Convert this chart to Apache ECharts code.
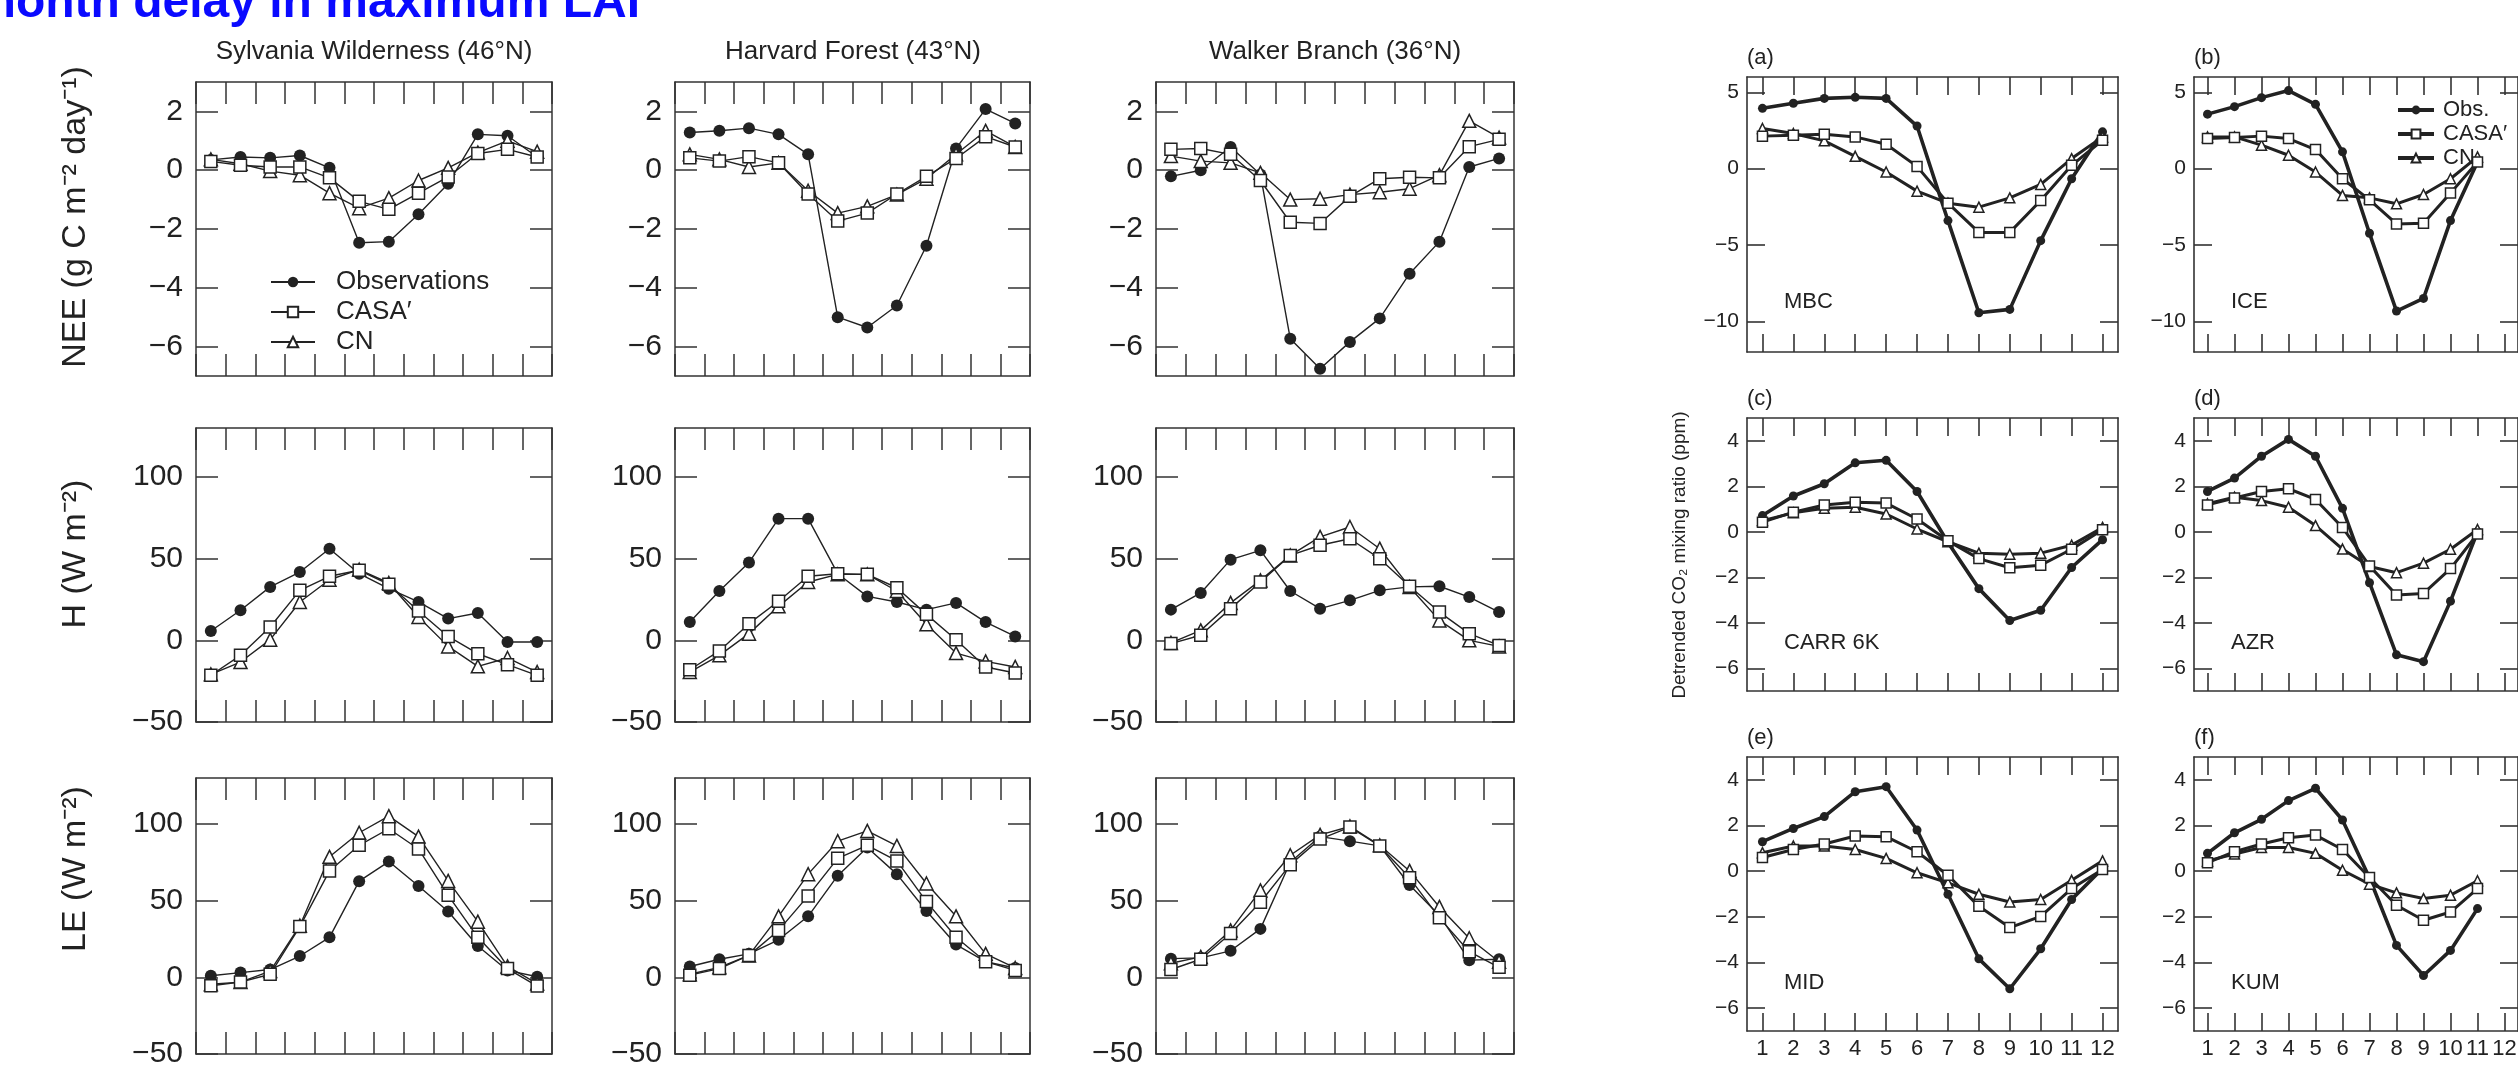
<!DOCTYPE html>
<html>
<head>
<meta charset="utf-8">
<script src="https://cdn.jsdelivr.net/npm/echarts@6/dist/echarts.min.js"></script>
<style>
html,body{margin:0;padding:0;background:#fff;}
#main{width:2518px;height:1069px;}
</style>
</head>
<body>
<div id="main"></div>
<script>
// ---- data ----
const months = ['1','2','3','4','5','6','7','8','9','10','11','12'];
const neeTicks = [-6,-4,-2,0,2];
const fluxTicks = [-50,0,50,100];
const mbcTicks = [-10,-5,0,5];
const co2Ticks = [-6,-4,-2,0,2,4];

// flux towers: NEE
const sylvNeeObs  = [0.35,0.45,0.42,0.5,0.08,-2.47,-2.43,-1.5,-0.46,1.22,1.17,0.45];
const sylvNeeCasa = [0.3,0.17,0.11,0.11,-0.26,-1.06,-1.33,-0.78,-0.23,0.57,0.71,0.45];
const sylvNeeCn   = [0.37,0.22,-0.03,-0.17,-0.78,-1.29,-0.95,-0.35,0.08,0.6,1.0,0.63];
const harvNeeObs  = [1.28,1.34,1.43,1.22,0.54,-5.0,-5.35,-4.6,-2.57,0.74,2.08,1.59];
const harvNeeCasa = [0.42,0.31,0.46,0.25,-0.81,-1.73,-1.46,-0.81,-0.21,0.4,1.14,0.79];
const harvNeeCn   = [0.54,0.37,0.11,0.25,-0.7,-1.46,-1.23,-0.83,-0.29,0.54,1.34,0.79];
const walkNeeObs  = [-0.21,0,0.79,-0.15,-5.73,-6.75,-5.84,-5.04,-3.52,-2.43,0.11,0.4];
const walkNeeCasa = [0.71,0.74,0.54,-0.35,-1.77,-1.81,-0.89,-0.29,-0.24,-0.26,0.8,1.05];
const walkNeeCn   = [0.48,0.31,0.25,-0.09,-1.0,-0.97,-0.83,-0.75,-0.63,-0.17,1.68,1.11];
// flux towers: H
const sylvHObs  = [5.7,18.4,32.7,41.8,56.1,40.8,31.6,23.5,13.3,16.7,-1,-1];
const sylvHCasa = [-21.4,-9.2,8.2,30.6,39.2,42.9,34.3,18,2.4,-8.2,-14.9,-21.4];
const sylvHCn   = [-20.8,-13.3,0.4,23.5,37.1,43.3,35.1,14.3,-3.7,-15.9,-10.8,-19.4];
const harvHObs  = [11.2,30.2,47.6,74.5,74.5,40.8,26.9,23.5,18.8,22.9,11.2,2.4];
const harvHCasa = [-18,-6.5,10.2,23.9,39.2,40.8,40.4,32.2,15.9,0.4,-16.3,-20];
const harvHCn   = [-19.4,-9.2,4.1,20.8,35.7,40.4,40.4,30.2,9.8,-7.8,-12.9,-16.3];
const walkHObs  = [18.8,29,49.4,55.1,30.2,19.4,24.5,30.6,32.7,33.1,26.5,17.3];
const walkHCasa = [-2,3.1,19.4,35.7,52,58.2,62.2,50,33.1,17.3,4.1,-3.1];
const walkHCn   = [-1.6,6.1,22.9,36.7,52,63.3,69.4,56.1,32.7,12.2,0,-3.7];
// flux towers: LE
const sylvLeObs  = [1,3.1,5.1,13.9,26.1,62.7,75.5,59.6,42.9,20.4,4.5,0.4];
const sylvLeCasa = [-5.5,-3.1,2,33.1,69.4,86.1,96.9,83.7,53.5,26.1,5.7,-5.7];
const sylvLeCn   = [-4.5,-3.1,4.1,33.7,78.6,94.3,105.1,91.8,62.9,36.3,7.1,-4.1];
const harvLeObs  = [7.1,11.8,15.3,24.5,39.8,66.3,84.7,67.3,43.3,21.4,10.2,6.1];
const harvLeCasa = [1.4,5.7,14.3,30.6,53.1,77.6,86.1,75.9,49.4,26.1,10.2,4.5];
const harvLeCn   = [2,6.5,14.3,39.8,67.3,88.8,95.5,85.7,61.2,39.8,15.3,6.1];
const walkLeObs  = [12.2,12.7,17.3,31.6,75.1,91.8,88.8,85.7,60.2,40.4,11.2,11.8];
const walkLeCasa = [5.1,11.8,28.6,49,73.5,90.2,98,85.7,64.9,38.8,16.7,6.5];
const walkLeCn   = [9.2,13.3,30.6,56.7,79.6,92.9,98.4,86.1,69.4,45.9,25.5,10.2];

// CO2 stations
const mbcObs  = [3.95,4.28,4.6,4.67,4.6,2.79,-3.4,-9.43,-9.21,-4.71,-0.66,2.41];
const mbcCasa = [2.13,2.19,2.26,2.08,1.6,0.15,-2.26,-4.17,-4.17,-2.08,0.22,1.86];
const mbcCn   = [2.63,2.3,1.82,0.81,-0.22,-1.47,-2.26,-2.52,-1.91,-1.03,0.66,2.08];
const iceObs  = [3.57,4.06,4.65,5.11,4.21,1.1,-4.23,-9.32,-8.49,-3.4,0.44];
const iceCasa = [1.97,2.04,2.13,1.97,1.25,-0.66,-2.04,-3.62,-3.57,-1.6,0.44];
const iceCn   = [2.08,2.08,1.54,0.88,-0.22,-1.75,-1.91,-2.3,-1.69,-0.66,0.77];
const carrObs  = [0.71,1.57,2.11,3.03,3.14,1.77,-0.47,-2.5,-3.9,-3.45,-1.57,-0.35];
const carrCasa = [0.42,0.86,1.18,1.3,1.26,0.56,-0.4,-1.18,-1.58,-1.47,-0.77,0.09];
const carrCn   = [0.49,0.83,1.03,1.08,0.78,0.12,-0.44,-0.94,-0.99,-0.94,-0.59,0.19];
const azrObs  = [1.77,2.36,3.32,4.06,3.32,1.03,-2.24,-5.41,-5.71,-3.05,0.0];
const azrCasa = [1.18,1.48,1.77,1.89,1.42,0.19,-1.5,-2.78,-2.71,-1.62,-0.1];
const azrCn   = [1.23,1.52,1.37,1.08,0.27,-0.76,-1.53,-1.8,-1.38,-0.77,0.1];
const midObs  = [1.29,1.87,2.39,3.48,3.7,1.8,-1.01,-3.84,-5.15,-3.4,-1.24,0.12];
const midCasa = [0.6,0.95,1.19,1.54,1.51,0.85,-0.18,-1.54,-2.47,-1.98,-0.76,0.07];
const midCn   = [0.81,1.1,1.1,0.95,0.56,-0.07,-0.51,-1.01,-1.35,-1.24,-0.4,0.45];
const kumObs  = [0.78,1.68,2.27,3.09,3.63,2.24,-0.3,-3.25,-4.57,-3.47,-1.64];
const kumCasa = [0.37,0.85,1.19,1.46,1.58,0.95,-0.28,-1.49,-2.15,-1.79,-0.76];
const kumCn   = [0.45,0.75,1.04,1.04,0.78,0.04,-0.57,-0.95,-1.2,-1.05,-0.42];

// ---- layout ----
const ink = '#222';
const sans = '"Liberation Sans", Arial, sans-serif';
const narrow = '"Liberation Sans Narrow", "Liberation Sans", Arial, sans-serif';
const minus = v => (v < 0 ? '\u2212' + Math.abs(v) : String(v));

const grid = [], xAxis = [], yAxis = [], series = [], graphic = [];

function addPanel(p, lines) {
  const gi = grid.length;
  grid.push({left: p.left, top: p.top, width: p.width, height: p.height});
  const ls = {color: '#333', width: p.frame};
  const xBase = {
    type: 'category', gridIndex: gi, data: months, boundaryGap: true,
    axisLine: {show: true, onZero: false, lineStyle: ls},
    axisTick: {show: true, inside: true, length: p.tick, interval: 0, alignWithLabel: p.align, lineStyle: ls},
    splitLine: {show: false}
  };
  const xi = xAxis.length;
  xAxis.push(Object.assign({}, xBase, {
    position: 'bottom',
    axisLabel: {show: !!p.xLabels, interval: 0, margin: 7, fontSize: 22, color: ink, fontFamily: narrow}
  }));
  xAxis.push(Object.assign({}, xBase, {position: 'top', axisLabel: {show: false}}));
  const yBase = {
    type: 'value', gridIndex: gi, min: p.min, max: p.max,
    axisLine: {show: true, onZero: false, lineStyle: ls},
    axisTick: {show: true, inside: true, length: p.tick, customValues: p.ticks, lineStyle: ls},
    splitLine: {show: false}
  };
  const yi = yAxis.length;
  yAxis.push(Object.assign({}, yBase, {
    position: 'left',
    axisLabel: {show: true, customValues: p.ticks, formatter: minus, margin: p.labelGap,
      fontSize: p.fontSize, color: ink, fontFamily: p.font}
  }));
  yAxis.push(Object.assign({}, yBase, {position: 'right', axisLabel: {show: false}}));

  lines.forEach(s => {
    series.push({
      type: 'line', name: s.name, data: s.data, xAxisIndex: xi, yAxisIndex: yi,
      symbol: s.symbol, symbolSize: s.size, showAllSymbol: true, silent: true,
      lineStyle: {color: ink, width: s.width},
      itemStyle: s.filled ? {color: ink} : {color: '#fff', borderColor: ink, borderWidth: s.border}
    });
  });
}

// left block: 3 rows x 3 sites
const leftCols = [{left: 196, width: 356}, {left: 675, width: 355}, {left: 1156, width: 358}];
const leftRows = [
  {top: 82, min: -7, max: 3, ticks: neeTicks},
  {top: 428, min: -50, max: 130, ticks: fluxTicks},
  {top: 778, min: -50, max: 130, ticks: fluxTicks}
];
const leftData = [
  [[sylvNeeObs, sylvNeeCasa, sylvNeeCn], [harvNeeObs, harvNeeCasa, harvNeeCn], [walkNeeObs, walkNeeCasa, walkNeeCn]],
  [[sylvHObs, sylvHCasa, sylvHCn], [harvHObs, harvHCasa, harvHCn], [walkHObs, walkHCasa, walkHCn]],
  [[sylvLeObs, sylvLeCasa, sylvLeCn], [harvLeObs, harvLeCasa, harvLeCn], [walkLeObs, walkLeCasa, walkLeCn]]
];
leftRows.forEach((r, ri) => {
  leftCols.forEach((c, ci) => {
    const d = leftData[ri][ci];
    addPanel({left: c.left, width: c.width, top: r.top, height: 294, min: r.min, max: r.max,
      ticks: r.ticks, tick: 22, frame: 1.5, align: false, labelGap: 13, fontSize: 30, font: sans}, [
      {name: 'Observations', data: d[0], symbol: 'circle', size: 12, width: 1.4, filled: true},
      {name: 'CN', data: d[2], symbol: 'triangle', size: 13, width: 1.4, border: 1.5},
      {name: 'CASA\u2032', data: d[1], symbol: 'rect', size: 12, width: 1.4, border: 1.5}
    ]);
  });
});

// right block: 3 rows x 2 stations
const rightCols = [{left: 1747, width: 371}, {left: 2194, width: 371}];
const rightRows = [
  {top: 77, height: 275, min: -12, max: 6, ticks: mbcTicks},
  {top: 418, height: 273, min: -7, max: 5, ticks: co2Ticks},
  {top: 757, height: 274, min: -7, max: 5, ticks: co2Ticks}
];
const rightData = [
  [[mbcObs, mbcCasa, mbcCn], [iceObs, iceCasa, iceCn]],
  [[carrObs, carrCasa, carrCn], [azrObs, azrCasa, azrCn]],
  [[midObs, midCasa, midCn], [kumObs, kumCasa, kumCn]]
];
const letters = [['(a)', '(b)'], ['(c)', '(d)'], ['(e)', '(f)']];
const stations = [['MBC', 'ICE'], ['CARR 6K', 'AZR'], ['MID', 'KUM']];
rightRows.forEach((r, ri) => {
  rightCols.forEach((c, ci) => {
    const d = rightData[ri][ci];
    addPanel({left: c.left, width: c.width, top: r.top, height: r.height, min: r.min, max: r.max,
      ticks: r.ticks, tick: 18, frame: 1.6, align: true, labelGap: 8, fontSize: 21, font: narrow,
      xLabels: ri === 2}, [
      {name: 'Obs.', data: d[0], symbol: 'circle', size: 9, width: 3.6, filled: true},
      {name: 'CN ', data: d[2], symbol: 'triangle', size: 10, width: 3, border: 1.5},
      {name: 'CASA\u2032 ', data: d[1], symbol: 'rect', size: 10, width: 3, border: 1.5}
    ]);
    graphic.push({type: 'text', x: c.left, y: r.top - 19,
      style: {text: letters[ri][ci], fill: ink, font: '22px ' + narrow, textAlign: 'left', textVerticalAlign: 'middle'}});
    graphic.push({type: 'text', x: c.left + 37, y: r.top + r.height - (ri === 0 ? 50 : 48),
      style: {text: stations[ri][ci], fill: ink, font: '22px ' + narrow, textAlign: 'left', textVerticalAlign: 'middle'}});
  });
});

// column titles and axis names
[['Sylvania Wilderness (46\u00B0N)', 374], ['Harvard Forest (43\u00B0N)', 853], ['Walker Branch (36\u00B0N)', 1335]]
  .forEach(t => graphic.push({type: 'text', x: t[1], y: 52,
    style: {text: t[0], fill: ink, font: '26px ' + sans, textAlign: 'center', textVerticalAlign: 'middle'}}));
[['NEE (g C m\u207B\u00B2 day\u207B\u00B9)', 217], ['H (W m\u207B\u00B2)', 554], ['LE (W m\u207B\u00B2)', 869]]
  .forEach(t => graphic.push({type: 'text', x: 76, y: t[1], rotation: Math.PI / 2,
    style: {text: t[0], fill: ink, font: '34px ' + sans, textAlign: 'center', textVerticalAlign: 'middle'}}));
graphic.push({type: 'text', x: 1680, y: 555, rotation: Math.PI / 2,
  style: {text: 'Detrended CO\u2082 mixing ratio (ppm)', fill: ink, font: '19px ' + sans, textAlign: 'center', textVerticalAlign: 'middle'}});
graphic.push({type: 'text', x: 640, y: 28,
  style: {text: '1-month delay in maximum LAI', fill: '#0a0aff', font: 'bold 48px ' + sans, textAlign: 'right', textVerticalAlign: 'bottom'}});

const chart = echarts.init(document.getElementById('main'));
chart.setOption({
  animation: false,
  grid: grid,
  xAxis: xAxis,
  yAxis: yAxis,
  series: series,
  graphic: graphic,
  legend: [
    {data: ['Observations', 'CASA\u2032', 'CN'], orient: 'vertical', left: 265, top: 264,
      itemWidth: 44, itemHeight: 13, itemGap: 4, selectedMode: false,
      textStyle: {fontSize: 26, lineHeight: 25, color: ink, fontFamily: sans, padding: [0, 0, 0, 16]}},
    {data: ['Obs.', 'CASA\u2032 ', 'CN '], orient: 'vertical', left: 2391, top: 94,
      itemWidth: 36, itemHeight: 11, itemGap: 2, selectedMode: false,
      lineStyle: {width: 4},
      textStyle: {fontSize: 22, lineHeight: 21, color: ink, fontFamily: narrow, padding: [0, 0, 0, 4]}}
  ]
});
</script>
</body>
</html>
